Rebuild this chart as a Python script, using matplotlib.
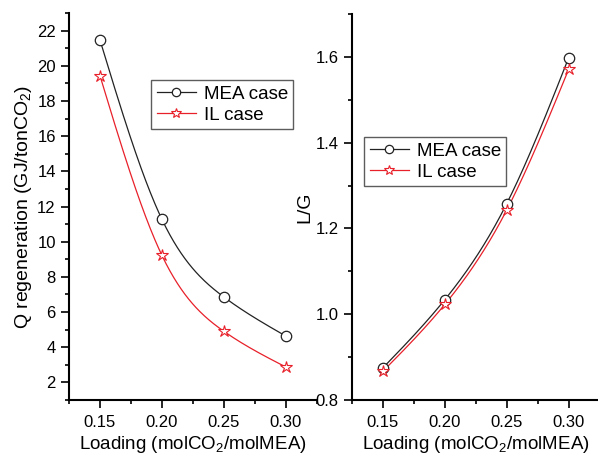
import numpy as np
import matplotlib
matplotlib.use("Agg")
import matplotlib.pyplot as plt
from matplotlib.ticker import MultipleLocator, FormatStrFormatter

plt.rcParams['font.family'] = ['Liberation Sans', 'DejaVu Sans']
plt.rcParams['mathtext.fontset'] = 'custom'
plt.rcParams['mathtext.rm'] = 'Liberation Sans'
plt.rcParams['mathtext.it'] = 'Liberation Sans:italic'

loading = [0.15, 0.20, 0.25, 0.30]
q_mea = [21.47, 11.28, 6.86, 4.64]
q_il = [19.44, 9.23, 4.91, 2.88]
lg_mea = [0.875, 1.034, 1.258, 1.598]
lg_il = [0.867, 1.023, 1.243, 1.571]


def spline_curve(x, y, n=200):
    # natural cubic spline used only to render the smooth connecting line
    x = np.asarray(x, float); y = np.asarray(y, float)
    k = len(x); h = np.diff(x)
    A = np.zeros((k, k)); b = np.zeros(k)
    A[0, 0] = A[-1, -1] = 1
    for i in range(1, k - 1):
        A[i, i - 1] = h[i - 1]; A[i, i] = 2 * (h[i - 1] + h[i]); A[i, i + 1] = h[i]
        b[i] = 3 * ((y[i + 1] - y[i]) / h[i] - (y[i] - y[i - 1]) / h[i - 1])
    c = np.linalg.solve(A, b)
    xs = np.linspace(x[0], x[-1], n); ys = np.empty_like(xs)
    for j, xv in enumerate(xs):
        i = min(np.searchsorted(x, xv, side='right') - 1, k - 2)
        dx = xv - x[i]
        bi = (y[i + 1] - y[i]) / h[i] - h[i] * (2 * c[i] + c[i + 1]) / 3
        di = (c[i + 1] - c[i]) / (3 * h[i])
        ys[j] = y[i] + bi * dx + c[i] * dx ** 2 + di * dx ** 3
    return xs, ys


W, H = 598, 459
fig = plt.figure(figsize=(W / 100, H / 100), dpi=100)
ax1 = fig.add_axes([69 / W, 1 - 400 / H, 247.6 / W, 387 / H])
ax2 = fig.add_axes([352 / W, 1 - 400 / H, 247.6 / W, 386 / H])

red = '#e8202a'
dark = '#222222'


def draw(ax, ymea, yil):
    xs, ys = spline_curve(loading, ymea)
    ax.plot(xs, ys, color=dark, lw=0.9)
    xs, ys = spline_curve(loading, yil)
    ax.plot(xs, ys, color=red, lw=0.9)
    ax.plot(loading, ymea, ls='none', marker='o', ms=7.5, mfc='white', mec=dark, mew=0.9)
    ax.plot(loading, yil, ls='none', marker='*', ms=9, mfc='white', mec=red, mew=0.8)
    ax.plot([], [], color=dark, lw=0.9, marker='o', ms=6, mfc='white', mec=dark, mew=0.9, label='MEA case')
    ax.plot([], [], color=red, lw=0.9, marker='*', ms=7.5, mfc='white', mec=red, mew=0.8, label='IL case')
    for s in ['top', 'right']:
        ax.spines[s].set_visible(False)
    for s in ['left', 'bottom']:
        ax.spines[s].set_linewidth(1.5)
    ax.set_xlim(0.125, 0.325)
    ax.xaxis.set_major_locator(MultipleLocator(0.05))
    ax.xaxis.set_minor_locator(MultipleLocator(0.025))
    ax.xaxis.set_major_formatter(FormatStrFormatter('%.2f'))
    ax.tick_params(which='major', direction='out', length=6, width=1.2, labelsize=12)
    ax.tick_params(axis='x', which='major', pad=5)
    ax.tick_params(which='minor', direction='out', length=3, width=1.2)
    ax.set_xlabel('Loading (molCO$_2$/molMEA)', fontsize=13.5, labelpad=3)


def legend(ax, x0, y0, h):
    leg = ax.legend(loc='upper left', bbox_to_anchor=((x0 - (69 if ax is ax1 else 352)) / 247.6, (400 - y0) / h),
                    fontsize=13.5, frameon=True, fancybox=False, edgecolor='#333333',
                    handlelength=2.1, borderpad=0.3, labelspacing=0.2, handletextpad=0.4, borderaxespad=0)
    leg.get_frame().set_linewidth(1.0)


draw(ax1, q_mea, q_il)
ax1.set_ylim(1, 23)
ax1.yaxis.set_major_locator(MultipleLocator(2))
ax1.yaxis.set_minor_locator(MultipleLocator(1))
ax1.set_ylabel('Q regeneration (GJ/tonCO$_2$)', fontsize=14, labelpad=2)
legend(ax1, 151, 80, 387)

draw(ax2, lg_mea, lg_il)
ax2.set_ylim(0.8, 1.7)
ax2.yaxis.set_major_locator(MultipleLocator(0.2))
ax2.yaxis.set_minor_locator(MultipleLocator(0.1))
ax2.yaxis.set_major_formatter(FormatStrFormatter('%.1f'))
ax2.set_ylabel('L/G', fontsize=14, labelpad=2)
legend(ax2, 364, 137, 386)

fig.savefig('out.png', dpi=100)
